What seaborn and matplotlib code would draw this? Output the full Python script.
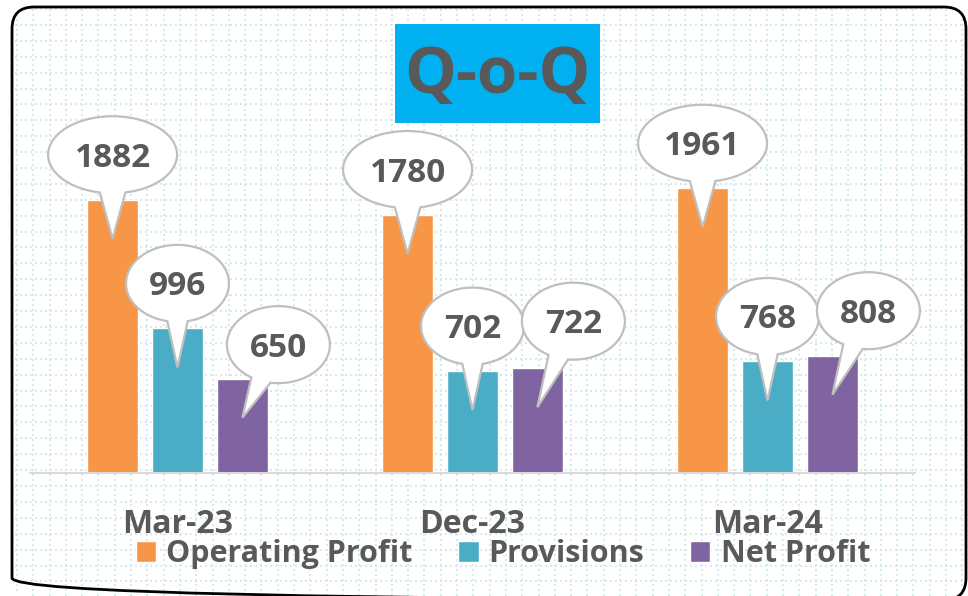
import numpy as np
import pandas as pd
import matplotlib
matplotlib.use("Agg")
import matplotlib.pyplot as plt
import matplotlib.transforms as mtransforms
from matplotlib.patches import PathPatch, Rectangle, FancyBboxPatch
from matplotlib.path import Path
import seaborn as sns

# datos del grafico
quarters = ["Mar-23", "Dec-23", "Mar-24"]
series = ["Operating Profit", "Provisions", "Net Profit"]
operating_profit = [1882, 1780, 1961]
provisions = [996, 702, 768]
net_profit = [650, 722, 808]
title = "Q-o-Q"

colors = ["#F79646", "#4BACC6", "#8064A2"]
text_gray = "#595959"

df = pd.DataFrame({
    "quarter": quarters * 3,
    "series": np.repeat(series, 3),
    "value": operating_profit + provisions + net_profit,
})

sns.set_theme(style="white")
plt.rcParams["font.family"] = ["Open Sans", "DejaVu Sans"]

W, H = 968, 596
fig = plt.figure(figsize=(W / 100, H / 100), dpi=100)

# fondo cuadriculado con borde redondeado
bg = fig.add_axes([0, 0, 1, 1], zorder=-1)
bg.set_xlim(0, W)
bg.set_ylim(H, 0)
bg.axis("off")
frame = FancyBboxPatch((12, 7), 954, 593, boxstyle="round,pad=0,rounding_size=22",
                       fc="white", ec="none", zorder=0)
bg.add_patch(frame)
grid_kw = dict(color="#cde7ee", lw=1.2, ls=(0, (1.2, 1.8)), zorder=1)
for gx in np.arange(17, W, 16.3):
    ln = bg.axvline(gx, **grid_kw)
    ln.set_clip_path(frame)
for gy in np.arange(9, H, 15.9):
    ln = bg.axhline(gy, **grid_kw)
    ln.set_clip_path(frame)
border = FancyBboxPatch((12, 7), 954, 593, boxstyle="round,pad=0,rounding_size=22",
                        fc="none", ec="black", lw=2, zorder=2)
bg.add_patch(border)

# titulo
bg.add_patch(Rectangle((395, 24), 205, 99, fc="#00B0F0", ec="none", zorder=3))
bg.text(497, 76, title, ha="center", va="center", fontsize=47,
        fontweight="bold", color=text_gray, zorder=4)

# barras
ax = fig.add_axes([30 / W, 123 / H, 885 / W, 453 / H])
ax.set_facecolor("none")
sns.barplot(data=df, x="quarter", y="value", hue="series", palette=colors,
            width=0.66, gap=0.215, saturation=1, ax=ax)
ax.set_xlim(-0.5, 2.5)
ax.set_ylim(0, 453 / 0.1452)
ax.set_xlabel("")
ax.set_ylabel("")
ax.set_yticks([])
for s in ["top", "left", "right"]:
    ax.spines[s].set_visible(False)
ax.spines["bottom"].set_color("#d9d9d9")
ax.spines["bottom"].set_linewidth(1.5)
ax.tick_params(axis="x", length=0, pad=25, labelsize=23, labelcolor=text_gray)
for lbl in ax.get_xticklabels():
    lbl.set_fontweight("bold")

handles, labels = ax.get_legend_handles_labels()
ax.get_legend().remove()
fig.legend(handles, labels, loc="center", bbox_to_anchor=(503 / W, 1 - 554 / H),
           ncol=3, frameon=False, prop=dict(weight="bold", size=22),
           labelcolor=text_gray, handlelength=0.66, handleheight=0.66,
           handletextpad=0.33, columnspacing=1.5, borderpad=0)


# burbujas de las etiquetas (en pixeles respecto a la parte alta de la barra)
def bubble_path(cx, cy, a, b, tx, ty, half=0.2):
    theta = np.arctan2((ty - cy) / b, (tx - cx) / a)
    t = np.linspace(theta + half, theta + 2 * np.pi - half, 90)
    pts = np.column_stack([cx + a * np.cos(t), cy + b * np.sin(t)])
    pts = np.vstack([pts, [tx, ty], pts[0]])
    codes = [Path.MOVETO] + [Path.LINETO] * (len(pts) - 2) + [Path.CLOSEPOLY]
    return Path(pts, codes)


label_dx = [0, 0, 36]
# altura del centro de la burbuja sobre la barra, por serie y trimestre
label_dy = [[45, 45, 45], [45, 45, 45], [34, 47, 45]]
tip_dy = -39

for i, cont in enumerate(ax.containers):
    for j, bar in enumerate(cont):
        x = bar.get_x() + bar.get_width() / 2
        top = bar.get_height()
        txt = f"{top:.0f}"
        a = 64.5 if len(txt) > 3 else 51.5
        b = 38.5
        dx, dy = label_dx[i], label_dy[i][j]
        trans = mtransforms.ScaledTranslation(x, top, ax.transData)
        patch = PathPatch(bubble_path(dx, dy, a, b, 0, tip_dy), transform=trans,
                          fc="white", ec="#bfbfbf", lw=1.6, zorder=5, clip_on=False)
        ax.add_artist(patch)
        ax.annotate(txt, xy=(x, top), xytext=(dx, dy - 12), textcoords="offset pixels",
                    ha="center", va="baseline", fontsize=24, fontweight="bold",
                    color=text_gray, zorder=6, annotation_clip=False)

fig.savefig("out.png", dpi=100)
